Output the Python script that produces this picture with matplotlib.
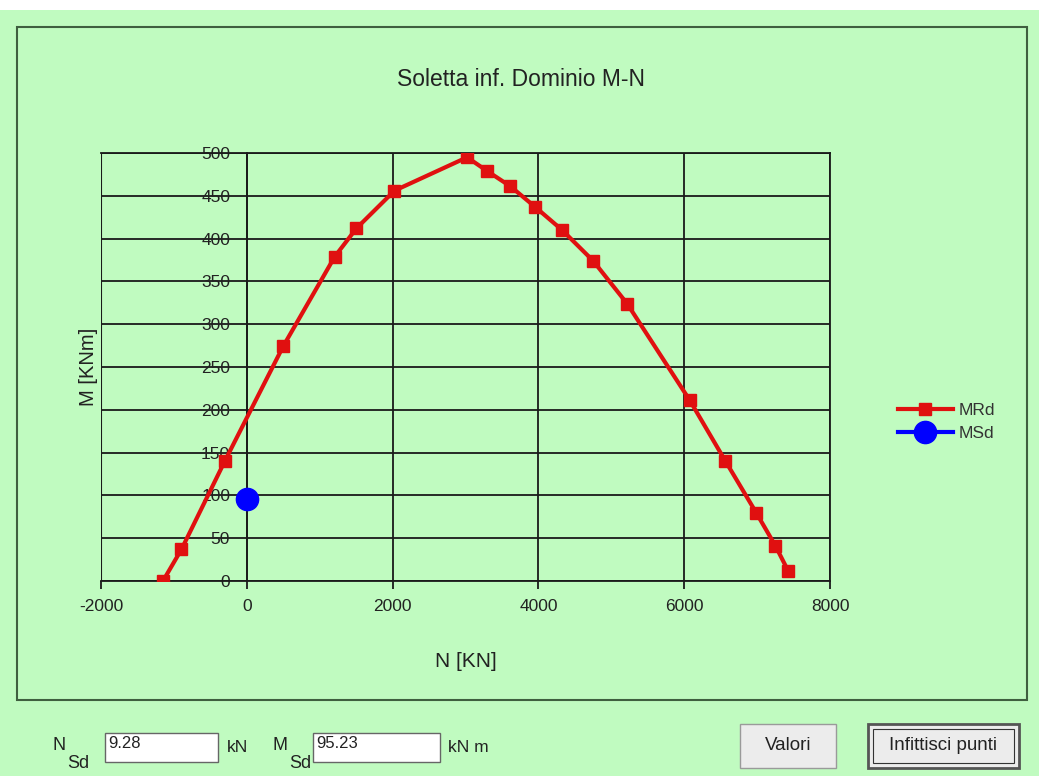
import matplotlib
matplotlib.use('Agg')
import matplotlib.pyplot as plt
from matplotlib.patches import Rectangle

plt.rcParams['font.family'] = ['Liberation Sans', 'DejaVu Sans']
plt.rcParams['axes.unicode_minus'] = False

# dominio resistente M-N
n_rd = [-1150, -896, -302, 498, 1207, 1504, 2026, 3022, 3296, 3617,
        3955, 4325, 4751, 5217, 6077, 6566, 6986, 7252, 7425]
m_rd = [0, 37, 140, 274, 379, 412, 456, 495, 479, 461,
        437, 410, 374, 324, 211, 140, 80, 41, 12]

# punto di sollecitazione
n_sd = [9.28]
m_sd = [95.23]

x_ticks = [-2000, 0, 2000, 4000, 6000, 8000]
y_ticks = [0, 50, 100, 150, 200, 250, 300, 350, 400, 450, 500]

W, H = 1039, 776
GREEN = '#c0fbc0'
TXT = '#222222'

def fx(px):
    return px / W

def fy(py):
    return 1 - py / H

fig = plt.figure(figsize=(W / 100, H / 100), dpi=100, facecolor=GREEN)

# striscia bianca in alto e cornice del pannello
fig.add_artist(Rectangle((0, fy(10)), 1, 10 / H, transform=fig.transFigure,
                         facecolor='white', edgecolor='none'))
fig.add_artist(Rectangle((fx(17), fy(700)), (1027 - 17) / W, (700 - 27) / H,
                         transform=fig.transFigure, facecolor='none',
                         edgecolor='#3f5f3f', lw=1.5))

ax = fig.add_axes([fx(101), fy(581), (830 - 101) / W, (581 - 153) / H])
ax.set_facecolor(GREEN)

ax.plot(n_rd, m_rd, color='#e01010', lw=3, marker='s', ms=9,
        label='MRd', zorder=3)
ax.plot(n_sd, m_sd, color='#0000ff', lw=3, marker='o', ms=16,
        label='MSd', zorder=4)

ax.set_xlim(-2000, 8000)
ax.set_ylim(0, 500)
ax.set_xticks(x_ticks)
ax.set_yticks(y_ticks)
ax.grid(True, color='#1a1a1a', lw=1.3)
ax.set_axisbelow(True)

for s in ax.spines.values():
    s.set_color('#1a1a1a')
    s.set_linewidth(1.3)
ax.spines['left'].set_position(('data', 0))
ax.axvline(-2000, color='#1a1a1a', lw=1.5, zorder=2)

ax.tick_params(axis='y', length=0, pad=12, labelsize=12.5, labelcolor=TXT)
ax.tick_params(axis='x', length=6, width=1.3, color='#1a1a1a', pad=7,
               labelsize=12.5, labelcolor=TXT)

ax.set_xlabel('N [KN]', fontsize=15, color=TXT)
ax.xaxis.set_label_coords(0.5, -0.165)
ax.set_ylabel('M [KNm]', fontsize=14.5, color=TXT)
ax.yaxis.set_label_coords(-0.004, 0.5)

fig.text(fx(521), fy(80), 'Soletta inf. Dominio M-N', fontsize=16.5,
         ha='center', va='center', color=TXT)

leg = ax.legend(loc='center left', bbox_to_anchor=(fx(882), fy(422)),
                bbox_transform=fig.transFigure, frameon=False, fontsize=12.5,
                handlelength=3.2, labelspacing=0.45, handletextpad=0.3)
for t in leg.get_texts():
    t.set_color('#333333')

# controlli in basso
def box(x0, y0, x1, y1, fc, ec, lw=1):
    fig.add_artist(Rectangle((fx(x0), fy(y1)), (x1 - x0) / W, (y1 - y0) / H,
                             transform=fig.transFigure, facecolor=fc,
                             edgecolor=ec, lw=lw))

fig.text(fx(53), fy(746), 'N', fontsize=13, va='center', color=TXT)
fig.text(fx(67), fy(763), 'Sd', fontsize=13, va='center', color=TXT)
box(105, 733, 218, 762, 'white', '#666666')
fig.text(fx(108), fy(743), '9.28', fontsize=12, va='center', color=TXT)
fig.text(fx(227), fy(748), 'kN', fontsize=12.5, va='center', color=TXT)

fig.text(fx(273), fy(746), 'M', fontsize=13, va='center', color=TXT)
fig.text(fx(289), fy(763), 'Sd', fontsize=13, va='center', color=TXT)
box(313, 733, 440, 762, 'white', '#666666')
fig.text(fx(316), fy(743), '95.23', fontsize=12, va='center', color=TXT)
fig.text(fx(448), fy(748), 'kN m', fontsize=12.5, va='center', color=TXT)

box(740, 724, 836, 768, '#ececec', '#9a9a9a')
fig.text(fx(788), fy(746), 'Valori', fontsize=13.5, ha='center', va='center',
         color=TXT)
box(868, 724, 1019, 768, '#ececec', '#555555', lw=2)
box(873, 729, 1014, 763, 'none', '#333333', lw=0.8)
fig.text(fx(943), fy(746), 'Infittisci punti', fontsize=13.5, ha='center',
         va='center', color=TXT)

plt.savefig('out.png', dpi=100, facecolor=fig.get_facecolor())
